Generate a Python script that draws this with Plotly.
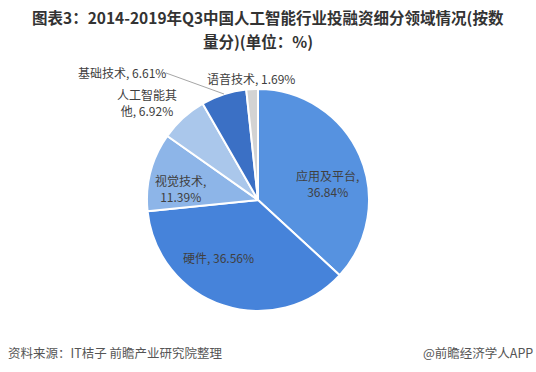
import plotly.graph_objects as go

categories = ["应用及平台", "硬件", "视觉技术", "人工智能其他", "基础技术", "语音技术"]
values = [36.84, 36.56, 11.39, 6.92, 6.61, 1.69]
label_texts = ["应用及平台,<br>36.84%", "硬件, 36.56%", "视觉技术,<br>11.39%",
               "人工智能其<br>他, 6.92%", "基础技术, 6.61%", "语音技术, 1.69%"]
title_lines = ["图表3：2014-2019年Q3中国人工智能行业投融资细分领域情况(按数", "量分)(单位：%)"]
colors = ["#5692E0", "#4683DA", "#8DB5E8", "#AAC7EB", "#3B70C5", "#D3D3D3"]

W, H = 536, 372
cx, cy, R = 258, 200, 111
FONT = "Noto Sans CJK SC"

fig = go.Figure()
fig.add_trace(go.Pie(
    labels=categories, values=values, sort=False, direction="clockwise", rotation=0,
    marker=dict(colors=colors, line=dict(color="white", width=2)),
    textinfo="none", hoverinfo="label+percent", showlegend=False,
    domain=dict(x=[(cx - R) / W, (cx + R) / W], y=[(H - cy - R) / H, (H - cy + R) / H]),
))

# label placement (pixel positions of label centres)
label_pos = [(327, 183), (218, 257), (180, 188), (147, 103), (122, 72), (251, 78)]
for txt, (px, py) in zip(label_texts, label_pos):
    fig.add_annotation(x=px / W, y=1 - py / H, xref="paper", yref="paper", text=txt,
                       xanchor="center", yanchor="middle", showarrow=False,
                       font=dict(size=12, color="#404040", family=FONT), align="center")

# leader line for 基础技术
fig.add_shape(type="line", xref="paper", yref="paper",
              x0=166 / W, y0=1 - 73 / H, x1=224 / W, y1=1 - 94 / H,
              line=dict(color="#A6A6A6", width=1))

for txt, (px, py) in zip(title_lines, [(268, 17), (258, 40.5)]):
    fig.add_annotation(x=px / W, y=1 - py / H, xref="paper", yref="paper", showarrow=False,
                       xanchor="center", yanchor="middle", text="<b>" + txt + "</b>",
                       borderpad=0, font=dict(size=15.5, color="#333333", family=FONT))
fig.add_annotation(x=6 / W, y=1 - 352 / H, xref="paper", yref="paper", showarrow=False,
                   xanchor="left", yanchor="middle", text="资料来源：IT桔子 前瞻产业研究院整理",
                   font=dict(size=12.5, color="#555555", family=FONT))
fig.add_annotation(x=535 / W, y=1 - 352 / H, xref="paper", yref="paper", showarrow=False,
                   xanchor="right", yanchor="middle", text="@前瞻经济学人APP",
                   font=dict(size=12.5, color="#555555", family=FONT))

fig.update_layout(width=W, height=H, margin=dict(l=0, r=0, t=0, b=0),
                  paper_bgcolor="white", plot_bgcolor="white")
fig.write_html("out.html", config={"displayModeBar": False},
               post_script="document.body.style.margin='0';")
